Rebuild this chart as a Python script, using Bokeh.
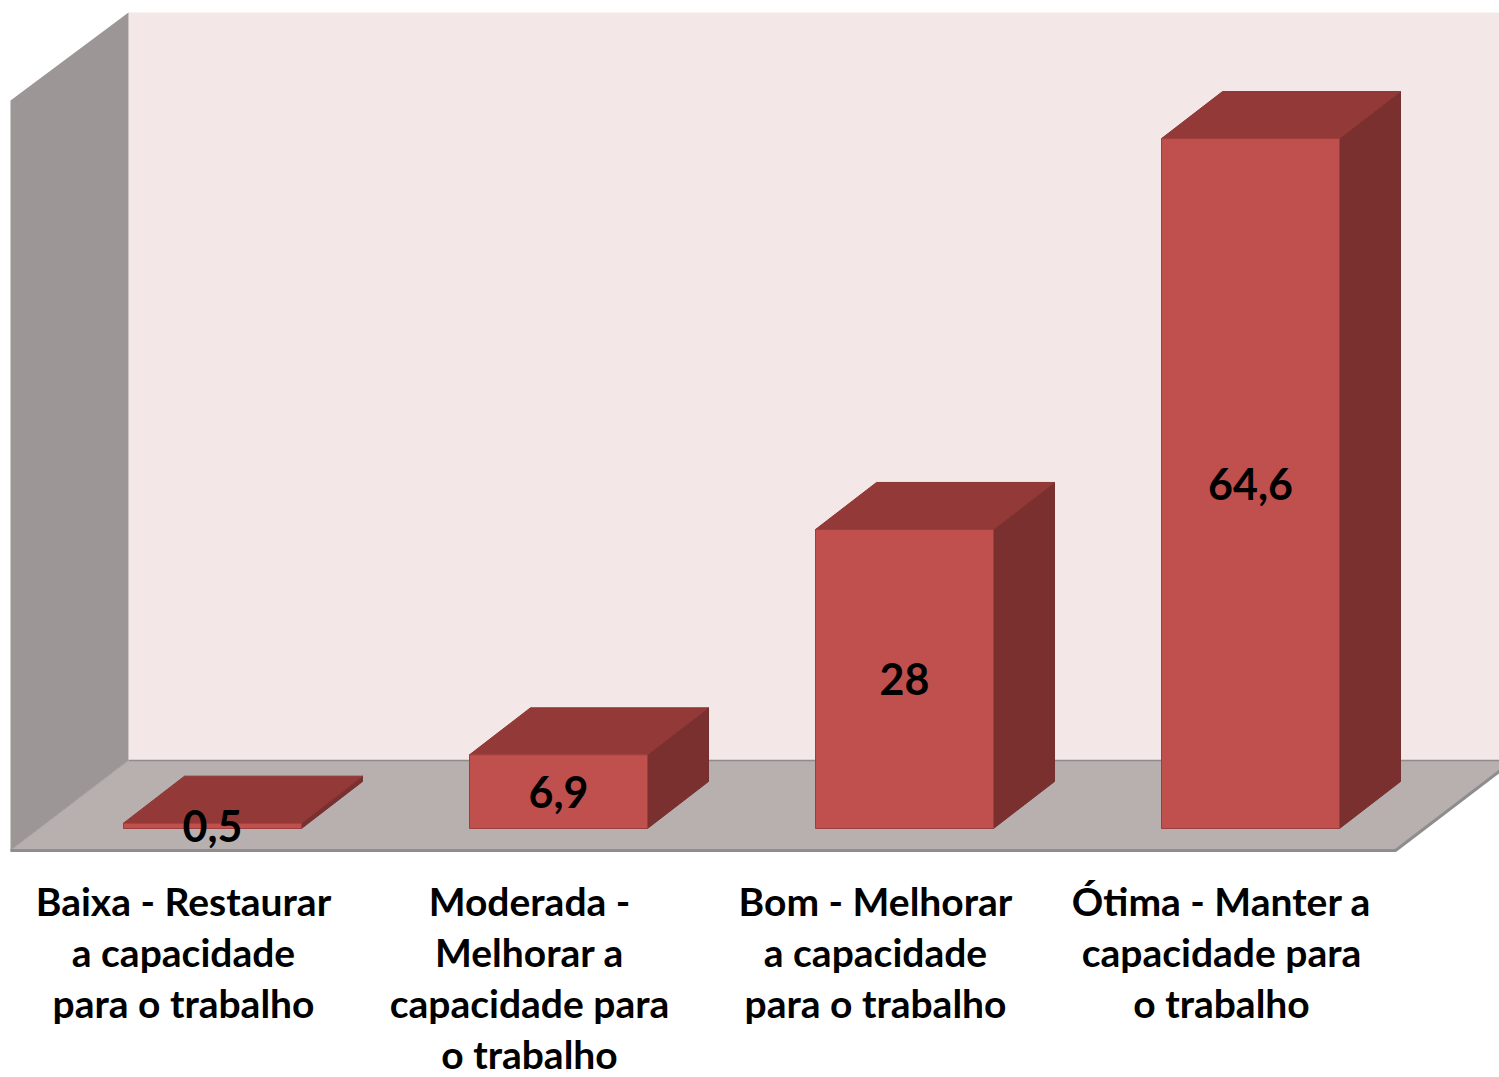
from bokeh.plotting import figure
from bokeh.models import Range1d
from bokeh.embed import file_html
from bokeh.resources import INLINE
from bokeh.core.properties import value

# ---- data ----
categories = [
    "Baixa - Restaurar a capacidade para o trabalho",
    "Moderada - Melhorar a capacidade para o trabalho",
    "Bom - Melhorar a capacidade para o trabalho",
    "Ótima - Manter a capacidade para o trabalho",
]
category_lines = [
    ["Baixa - Restaurar", "a capacidade", "para o trabalho"],
    ["Moderada -", "Melhorar a", "capacidade para", "o trabalho"],
    ["Bom - Melhorar", "a capacidade", "para o trabalho"],
    ["Ótima - Manter a", "capacidade para", "o trabalho"],
]
values = [0.5, 6.9, 28, 64.6]
value_labels = ["0,5", "6,9", "28", "64,6"]

# ---- layout / style ----
W, H = 1499, 1077
PX_PER_CAT = 346.0
PX_PER_UNIT = 10.68
x0_px, y0_px = 212.0, 828.0          # canvas pixel of category 0 / value 0

FONT = "Lato"
FRONT = "#C0504D"
TOP = "#933A39"
SIDE = "#7B3030"
EDGE = "#9E3E3B"
WALL_BACK = "#F3E7E7"
WALL_LEFT = "#9C9696"
FLOOR = "#B8AFAF"
FLOOR_LINE = "#8E8C8C"

x_start = -x0_px / PX_PER_CAT
x_end = (W - x0_px) / PX_PER_CAT
y_end = y0_px / PX_PER_UNIT
y_start = (y0_px - H) / PX_PER_UNIT

p = figure(width=W, height=H, output_backend="svg", toolbar_location=None,
           x_range=Range1d(x_start, x_end), y_range=Range1d(y_start, y_end),
           min_border=0, outline_line_color=None, background_fill_color="white")
p.axis.visible = False
p.grid.visible = False

def px(dx):   # horizontal pixels -> data units
    return dx / PX_PER_CAT

def pv(dy):   # vertical pixels -> data units
    return dy / PX_PER_UNIT

# walls & floor
fl_left = px(-202); fl_right = px(1183); fl_front = pv(-22)
fdx, fdy = px(118), pv(90)
wall_top = pv(816); lwall_top = pv(728)
back_right = x_end + 1

p.patch([fl_left + fdx, back_right, back_right, fl_left + fdx],
        [fl_front + fdy, fl_front + fdy, wall_top, wall_top],
        fill_color=WALL_BACK, line_color=None)
p.patch([fl_left, fl_left, fl_left + fdx, fl_left + fdx],
        [fl_front, lwall_top, wall_top, fl_front + fdy],
        fill_color=WALL_LEFT, line_color=None)
p.patch([fl_left, fl_right, fl_right + fdx, back_right, back_right, fl_left + fdx],
        [fl_front, fl_front, fl_front + fdy, fl_front + fdy, fl_front + fdy, fl_front + fdy],
        fill_color=FLOOR, line_color=None)
p.line([fl_left + fdx, back_right], [fl_front + fdy, fl_front + fdy],
       line_color=FLOOR_LINE, line_width=1.5)
p.line([fl_left, fl_left + fdx], [fl_front, fl_front + fdy],
       line_color="#A9A2A2", line_width=1)
p.line([fl_left, fl_right, fl_right + fdx], [fl_front, fl_front, fl_front + fdy],
       line_color=FLOOR_LINE, line_width=3)

# bars
hw = px(89)
bdx, bdy = px(61), pv(47)
xs = list(range(len(values)))
side_xs, side_ys, top_xs, top_ys = [], [], [], []
for x, v in zip(xs, values):
    side_xs.append([x + hw, x + hw + bdx, x + hw + bdx, x + hw])
    side_ys.append([0, bdy, v + bdy, v])
    top_xs.append([x - hw, x + hw, x + hw + bdx, x - hw + bdx])
    top_ys.append([v, v, v + bdy, v + bdy])
p.patches(side_xs, side_ys, fill_color=SIDE, line_color="#73302E", line_width=1)
p.patches(top_xs, top_ys, fill_color=TOP, line_color="#8A3634", line_width=1)
p.quad(left=[x - hw for x in xs], right=[x + hw for x in xs],
       bottom=0, top=values, fill_color=FRONT, line_color=EDGE, line_width=1)

# value labels
p.text(x=xs, y=[v / 2 for v in values], text=value_labels,
       text_font=value(FONT), text_font_style="bold", text_font_size="43px",
       text_color="black", text_align="center", text_baseline="alphabetic",
       y_offset=0)

# category labels
lx, ly, lt, loff = [], [], [], []
for x, lines in zip(xs, category_lines):
    for k, line in enumerate(lines):
        lx.append(x); ly.append(0); lt.append(line); loff.append(72 + 51 * k)
p.text(x=lx, y=ly, text=lt, y_offset=loff, x_offset=-29,
       text_font=value(FONT), text_font_style="bold", text_font_size="39px",
       text_color="black", text_align="center", text_baseline="alphabetic")

open("out.html", "w").write(file_html(p, INLINE))
